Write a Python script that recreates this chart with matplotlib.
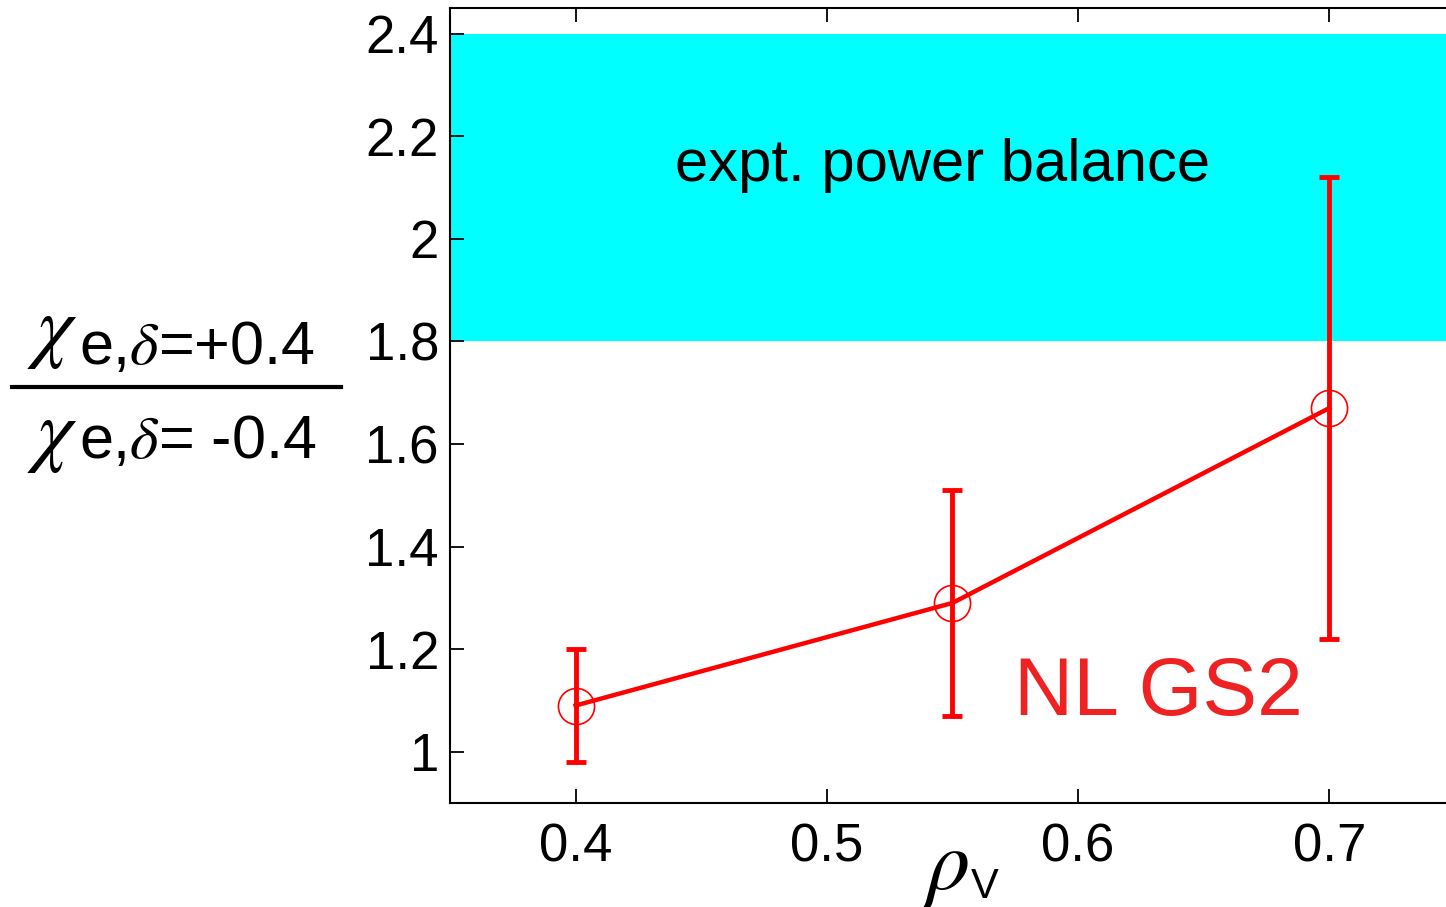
import numpy as np
import matplotlib.pyplot as plt
from matplotlib.lines import Line2D

plt.rcParams['font.family'] = ['Liberation Sans', 'DejaVu Sans']
plt.rcParams['mathtext.fontset'] = 'stix'

# flux ratio vs. normalised radius
rho = np.array([0.4, 0.55, 0.7])
ratio = np.array([1.09, 1.29, 1.67])
err_lo = np.array([0.98, 1.07, 1.22])
err_hi = np.array([1.20, 1.51, 2.12])

# experimental power balance range
band_lo, band_hi = 1.8, 2.4

xticks = [0.4, 0.5, 0.6, 0.7]
yticks = [1.0, 1.2, 1.4, 1.6, 1.8, 2.0, 2.2, 2.4]
yticklabels = ['1', '1.2', '1.4', '1.6', '1.8', '2', '2.2', '2.4']

fig = plt.figure(figsize=(14.46, 9.07), dpi=100)
ax = fig.add_axes([0.3112, 0.1147, 0.695, 0.8765])

ax.axhspan(band_lo, band_hi, color='#00ffff', lw=0, zorder=0)
ax.text(0.546, 2.143, 'expt. power balance', fontsize=43, ha='center', va='center')

yerr = np.vstack([ratio - err_lo, err_hi - ratio])
ax.errorbar(rho, ratio, yerr=yerr, fmt='-', color='#ff0000', lw=3.2, elinewidth=3.5,
            capsize=7.5, capthick=3.5, zorder=3)
ax.plot(rho, ratio, 'o', ms=26, mfc='none', mec='#ff0000', mew=1.2, zorder=4)

ax.text(0.632, 1.113, 'NL GS2', color='#ee2222', fontsize=59, ha='center', va='center')

ax.set_xlim(0.35, 0.75)
ax.set_ylim(0.9, 2.45)
ax.set_xticks(xticks)
ax.set_xticklabels([f'{v:g}' for v in xticks])
ax.set_yticks(yticks)
ax.set_yticklabels(yticklabels)
ax.tick_params(direction='in', length=10, width=1.3, labelsize=38, top=True, right=False)
ax.tick_params(axis='x', pad=14)
ax.tick_params(axis='y', pad=8)
for s in ax.spines.values():
    s.set_linewidth(1.5)

# x label: rho with upright V subscript
W, H = 1446.0, 907.0
fig.text(946 / W, 1 - 869 / H, r'$\rho$', fontsize=62, ha='center', va='center')
fig.text(971 / W, 1 - 898 / H, 'V', fontsize=30, ha='left', va='baseline')

# y label drawn as a fraction
for chi_y, base_y, rest in [(333, 364, '=+0.4'), (437, 458, '= -0.4')]:
    fig.text(52 / W, 1 - chi_y / H, r'$\chi$', fontsize=58, ha='center', va='center')
    fig.text(79 / W, 1 - base_y / H, r'e,$\delta$' + rest, fontsize=44,
             ha='left', va='baseline')
fig.add_artist(Line2D([12 / W, 341 / W], [1 - 387 / H, 1 - 387 / H], color='black',
                      lw=3, transform=fig.transFigure))

fig.savefig('out.png', dpi=100)
